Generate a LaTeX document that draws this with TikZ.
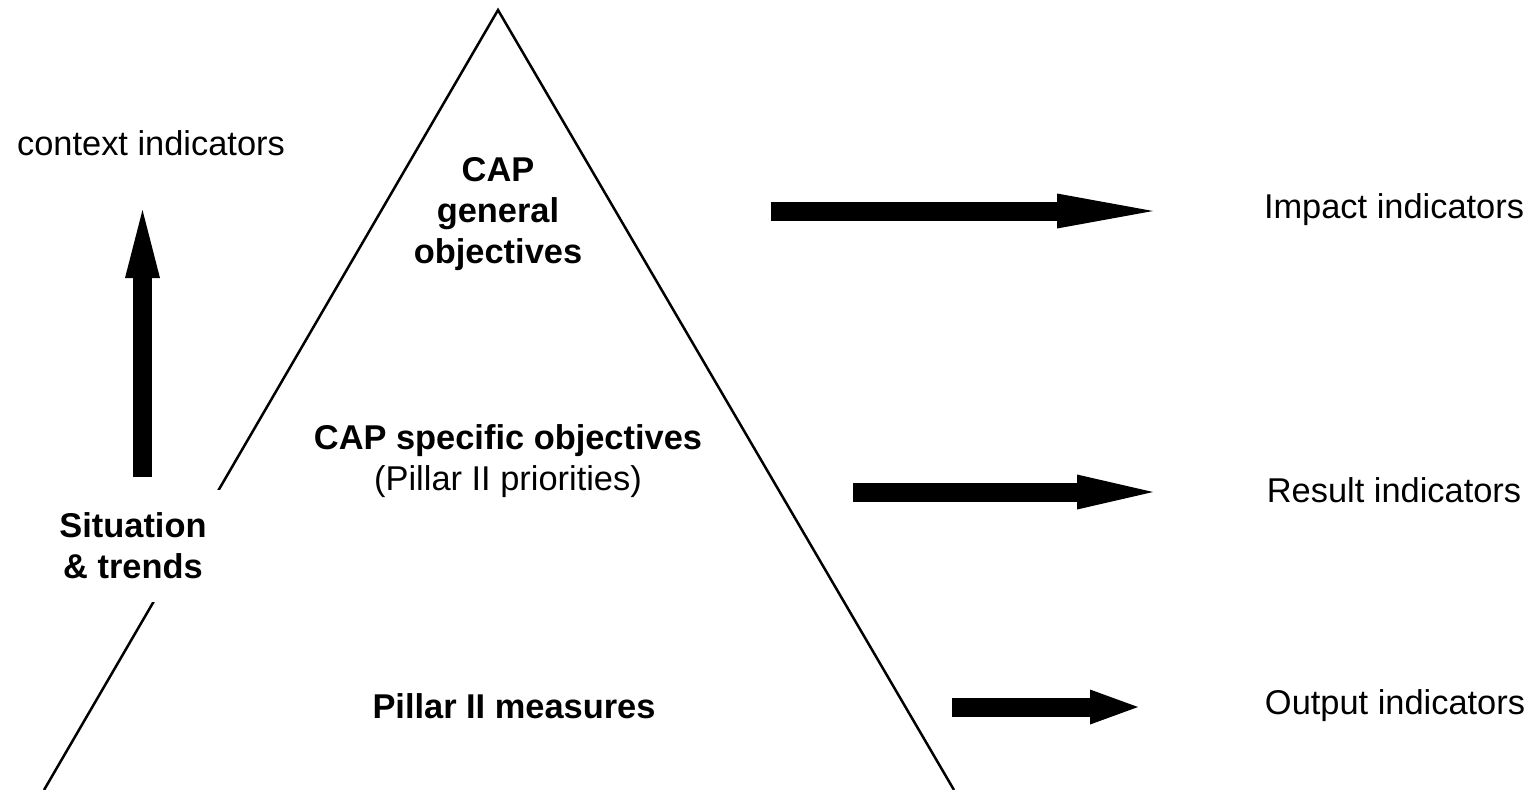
\documentclass[tikz,border=0pt]{standalone}
\usepackage{fontspec}
\setmainfont{Liberation Sans}
\usetikzlibrary{arrows.meta,positioning}

\begin{document}
\begin{tikzpicture}[x=0.5pt,y=-0.5pt]
  \tikzset{Label/.style     = {font=\fontsize{17.2}{20.5}\selectfont, align=center, inner sep=0pt},
           BoldLabel/.style = {Label, font=\fontsize{17.2}{20.5}\selectfont\bfseries},
           FatArrow/.style  = {line width=9.5pt, -{Triangle[length=#1, width=17.5pt, line width=0pt]}}}
  \useasboundingbox (0,0) rectangle (1540,789);
  %% pyramid
  \coordinate (apex) at (498,10);
  \coordinate (baseL) at (44,790);
  \coordinate (baseR) at (954,790);
  \draw[line width=1.25pt] (baseL) -- (apex) -- (baseR);
  %% levels
  \node[BoldLabel] (general)  at (498,214) {CAP\\general\\objectives};
  \node[BoldLabel] (specific) at (508,461) {CAP specific objectives\\\mdseries (Pillar II priorities)};
  \node[BoldLabel] (measures) at (514,706) {Pillar II measures};
  %% context side
  \node[BoldLabel, fill=white, minimum height=56pt, inner xsep=8pt] (situation) at (133,546) {Situation\\\& trends};
  \node[Label] (context) at (151,143) {context indicators};
  \coordinate (ctxfoot) at (142.5,477);
  \coordinate (ctxtip)  at (142.5,210);
  \draw[FatArrow=34pt] (ctxfoot) -- (ctxtip);
  %% indicators
  \node[Label] (impact) at (1394,210) {Impact indicators};
  \node[Label] (result) at (1394,490) {Result indicators};
  \node[Label] (output) at (1395,706) {Output indicators};
  \coordinate (impfoot) at (771,211);
  \coordinate (imptip)  at (1153,211);
  \coordinate (resfoot) at (853,492);
  \coordinate (restip)  at (1153,492);
  \coordinate (outfoot) at (952,707);
  \coordinate (outtip)  at (1138,707);
  \draw[FatArrow=48pt] (impfoot) -- (imptip);
  \draw[FatArrow=38pt] (resfoot) -- (restip);
  \draw[FatArrow=24pt] (outfoot) -- (outtip);
\end{tikzpicture}
\end{document}
